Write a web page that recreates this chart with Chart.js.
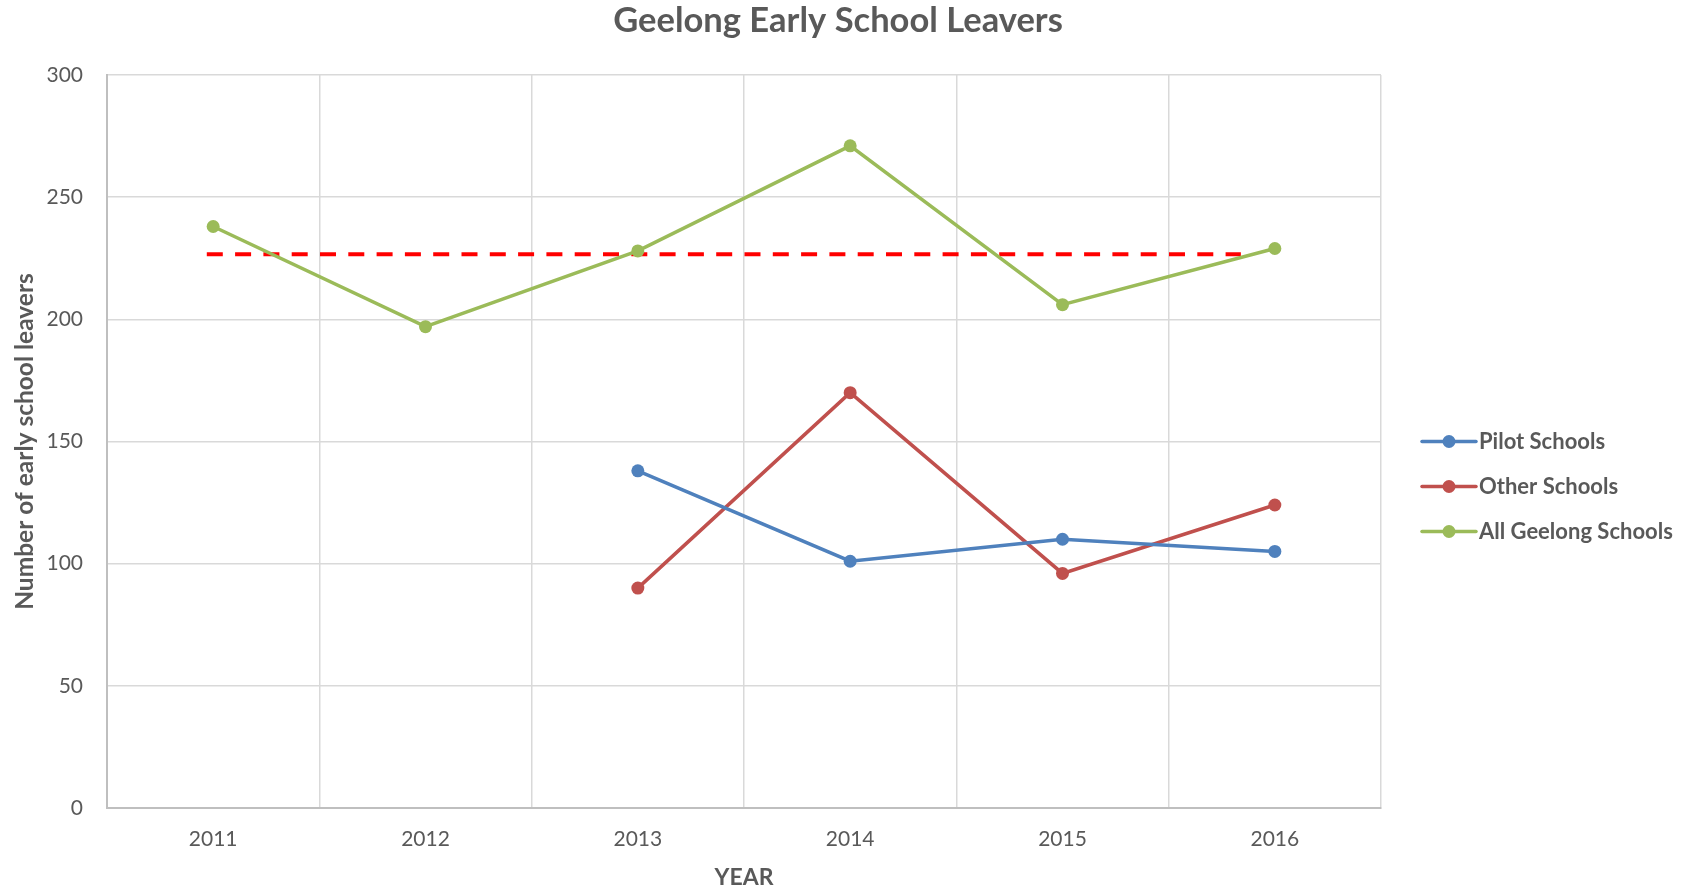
<!DOCTYPE html>
<html><head><meta charset="utf-8">
<script src="https://cdn.jsdelivr.net/npm/chart.js@4"></script>
<style>html,body{margin:0;padding:0;background:#fff;} #wrap{width:1696px;height:891px;position:relative;}</style>
</head><body><div id="wrap"><canvas id="c"></canvas></div>
<script>
const years = ['2011', '2012', '2013', '2014', '2015', '2016'];
const pilotSchools = [null, null, 138, 101, 110, 105];
const otherSchools = [null, null, 90, 170, 96, 124];
const allGeelong = [238, 197, 228, 271, 206, 229];
const averageValue = 226.6;
const averageSpan = [2010.97, 2015.84];
const yTicks = [0, 50, 100, 150, 200, 250, 300];
const chartTitle = 'Geelong Early School Leavers';

const FONT = 'Lato';
const TXT = '#595959';

const sideLegend = {
  id: 'sideLegend',
  afterDraw(chart) {
    const ctx = chart.ctx, a = chart.chartArea;
    ctx.save();
    ctx.fillStyle = TXT; ctx.font = 'bold 34.5px ' + FONT;
    ctx.textAlign = 'center'; ctx.textBaseline = 'middle';
    ctx.fillText(chartTitle, chart.width / 2 - 10, 21);
    const items = chart.data.datasets.filter(d => d.inLegend);
    const x0 = a.right + 41, len = 54, rowH = 45;
    const midY = (a.top + a.bottom) / 2 + 45;
    items.forEach((d, i) => {
      const y = midY + (i - (items.length - 1) / 2) * rowH;
      ctx.strokeStyle = d.borderColor; ctx.lineWidth = 3.5; ctx.lineCap = 'round';
      ctx.beginPath(); ctx.moveTo(x0, y); ctx.lineTo(x0 + len, y); ctx.stroke();
      ctx.fillStyle = d.borderColor;
      ctx.beginPath(); ctx.arc(x0 + len / 2, y, 6.5, 0, Math.PI * 2); ctx.fill();
      ctx.fillStyle = TXT; ctx.font = 'bold 22px ' + FONT; ctx.textBaseline = 'middle'; ctx.textAlign = 'left';
      ctx.fillText(d.label, x0 + len + 3, y);
    });
    ctx.restore();
  }
};

const lineDs = (label, data, color) => ({
  label, data, borderColor: color, backgroundColor: color, pointBackgroundColor: color,
  pointBorderWidth: 0, pointRadius: 6.5, pointHoverRadius: 6.5, borderWidth: 3.5,
  tension: 0, spanGaps: false, inLegend: true, xAxisID: 'x', yAxisID: 'y'
});

new Chart(document.getElementById('c'), {
  type: 'line',
  data: {
    labels: years,
    datasets: [
      lineDs('Pilot Schools', pilotSchools, '#4f81bd'),
      lineDs('Other Schools', otherSchools, '#c0504d'),
      lineDs('All Geelong Schools', allGeelong, '#9bbb59'),
      {
        label: 'Average', data: averageSpan.map(x => ({x, y: averageValue})),
        borderColor: '#ff0000', borderWidth: 4, borderDash: [16, 12.3], pointRadius: 0,
        pointHoverRadius: 0, xAxisID: 'x2', yAxisID: 'y', inLegend: false, order: 10
      }
    ]
  },
  options: {
    responsive: true, maintainAspectRatio: false, animation: false,
    layout: { padding: { left: 10, right: 315, top: 75, bottom: 0 } },
    plugins: {
      legend: { display: false }, tooltip: { enabled: false }, title: { display: false }
    },
    scales: {
      x: {
        type: 'category', offset: true,
        afterFit: s => { s.height = 83; },
        grid: { offset: true, color: '#d9d9d9', lineWidth: 1.5, drawTicks: false },
        border: { color: '#bfbfbf', width: 2 },
        ticks: { color: TXT, font: { family: FONT, size: 21 }, padding: 19 },
        title: { display: true, text: 'YEAR', color: TXT, font: { family: FONT, size: 23, weight: 'bold' }, padding: { top: 12, bottom: 0 } }
      },
      x2: { type: 'linear', display: false, min: Number(years[0]) - 0.5, max: Number(years[years.length - 1]) + 0.5 },
      y: {
        min: yTicks[0], max: yTicks[yTicks.length - 1],
        afterFit: s => { s.width = 97; },
        grid: { color: '#d9d9d9', lineWidth: 1.5, drawTicks: false },
        border: { color: '#bfbfbf', width: 2 },
        ticks: { stepSize: yTicks[1] - yTicks[0], color: TXT, font: { family: FONT, size: 21 }, padding: 24 },
        title: { display: true, text: 'Number of early school leavers', color: TXT, font: { family: FONT, size: 24.5, weight: 'bold' }, padding: { top: 0, bottom: 12 } }
      }
    }
  },
  plugins: [sideLegend]
});
</script></body></html>
